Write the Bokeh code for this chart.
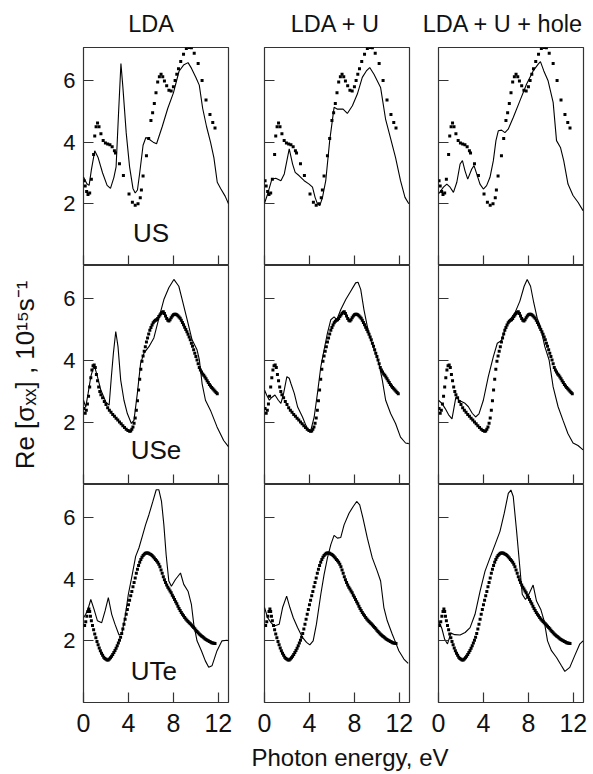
from bokeh.plotting import figure
from bokeh.layouts import row, column
from bokeh.models import FixedTicker, Range1d, Label, CustomLabelingPolicy
from bokeh.embed import file_html
from bokeh.resources import INLINE

FONT = "Liberation Sans"

column_titles = ["LDA", "LDA + U", "LDA + U + hole"]
compounds = ["US", "USe", "UTe"]
x_ticks = [0, 4, 8, 12]
y_ticks = [2, 4, 6]
x_label = "Photon energy, eV"
y_label = "Re [σₓₓ] , 10¹⁵s⁻¹"

# ---------------- experiment (dots), same in every column ----------------
us_exp_x = [0.05, 0.15, 0.28, 0.4, 0.55, 0.7, 0.9, 1.0, 1.12, 1.25, 1.38, 1.55, 1.75, 1.95,
            2.15, 2.35, 2.55, 2.75, 2.85, 3.2, 3.55, 4.05, 4.35, 4.6, 4.85, 5.05, 5.15, 5.3,
            5.6, 5.8, 6.0, 6.15, 6.3, 6.45, 6.6, 6.75, 6.9, 7.05, 7.2, 7.4, 7.6, 7.8, 8.0,
            8.15, 8.3, 8.45, 8.65, 8.9, 9.15, 9.4, 9.6, 9.85, 10.2, 10.55, 10.9, 11.25, 11.5, 11.7]
us_exp_y = [2.75, 2.58, 2.4, 2.3, 2.35, 2.8, 3.6, 4.2, 4.5, 4.62, 4.5, 4.27, 4.05, 3.97,
            3.94, 3.92, 3.85, 3.72, 3.65, 3.3, 2.92, 2.32, 2.05, 1.95, 2.0, 2.2, 2.45, 2.9,
            3.56, 4.12, 4.7, 4.95, 5.25, 5.6, 5.95, 6.12, 6.2, 6.12, 5.98, 5.83, 5.68, 5.66, 5.8,
            6.0, 6.2, 6.38, 6.62, 6.85, 7.04, 7.07, 7.06, 6.88, 6.55, 6.0, 5.37, 4.9, 4.64, 4.46]

use_exp_x = [0.05, 0.15, 0.25, 0.35, 0.45, 0.55, 0.65, 0.75, 0.85, 0.95, 1.05, 1.15, 1.25, 1.35,
             1.45, 1.55, 1.7, 1.85, 2.0, 2.15, 2.3, 2.45, 2.6, 2.75, 2.9, 3.05, 3.2, 3.35, 3.5,
             3.65, 3.8, 3.95, 4.1, 4.2, 4.3, 4.4, 4.5, 4.6, 4.7, 4.8, 4.9, 5.0, 5.1, 5.2, 5.3,
             5.4, 5.5, 5.6, 5.7, 5.8, 5.9, 6.0, 6.1, 6.2, 6.3, 6.4, 6.5, 6.6, 6.7, 6.8, 6.9,
             7.0, 7.1, 7.2, 7.3, 7.4, 7.5, 7.6, 7.7, 7.8, 7.9, 8.0, 8.1, 8.2, 8.3, 8.4, 8.5,
             8.6, 8.7, 8.8, 8.9, 9.0, 9.1, 9.2, 9.3, 9.4, 9.5, 9.6, 9.7, 9.8, 9.9, 10.0, 10.1,
             10.2, 10.3, 10.4, 10.5, 10.6, 10.7, 10.8, 10.9, 11.0, 11.1, 11.2, 11.3, 11.4, 11.5,
             11.6, 11.7, 11.8, 11.9]
use_exp_y = [2.45, 2.3, 2.4, 2.6, 2.85, 3.15, 3.45, 3.7, 3.83, 3.86, 3.78, 3.55, 3.35, 3.15,
             3.0, 2.9, 2.8, 2.68, 2.58, 2.48, 2.4, 2.33, 2.26, 2.2, 2.14, 2.08, 2.02, 1.96, 1.9,
             1.84, 1.78, 1.74, 1.72, 1.73, 1.78, 1.86, 1.98, 2.15, 2.4, 2.7, 3.05, 3.4, 3.72, 3.98, 4.15,
             4.3, 4.45, 4.6, 4.73, 4.86, 4.98, 5.07, 5.15, 5.22, 5.27, 5.3, 5.32, 5.36, 5.42, 5.47, 5.52,
             5.56, 5.58, 5.52, 5.44, 5.36, 5.3, 5.28, 5.32, 5.38, 5.44, 5.48, 5.5, 5.5, 5.48, 5.45, 5.41,
             5.37, 5.3, 5.23, 5.16, 5.08, 5.0, 4.93, 4.85, 4.76, 4.67, 4.56, 4.46, 4.35, 4.24, 4.13, 4.02,
             3.9, 3.78, 3.7, 3.63, 3.57, 3.53, 3.47, 3.41, 3.35, 3.29, 3.23, 3.18, 3.13, 3.09,
             3.05, 3.01, 2.97, 2.93]

ute_exp_x = [0.1, 0.2, 0.3, 0.4, 0.48, 0.55, 0.62, 0.7, 0.8, 0.9, 1.0, 1.1, 1.2, 1.3, 1.4, 1.5,
             1.6, 1.7, 1.8, 1.9, 2.0, 2.1, 2.2, 2.3, 2.4, 2.5, 2.6, 2.7, 2.8, 2.9, 3.0, 3.1, 3.2,
             3.3, 3.4, 3.5, 3.6, 3.7, 3.8, 3.9, 4.0, 4.1, 4.2, 4.3, 4.4, 4.5, 4.6, 4.7, 4.8, 4.9,
             5.0, 5.1, 5.2, 5.3, 5.4, 5.5, 5.6, 5.7, 5.8, 5.9, 6.0, 6.1, 6.2, 6.3, 6.4, 6.5, 6.6,
             6.7, 6.8, 6.9, 7.0, 7.1, 7.2, 7.3, 7.4, 7.5, 7.6, 7.7, 7.8, 7.9, 8.0, 8.1, 8.2, 8.3,
             8.4, 8.5, 8.6, 8.7, 8.8, 8.9, 9.0, 9.1, 9.2, 9.3, 9.4, 9.5, 9.6, 9.7, 9.8, 9.9, 10.0,
             10.1, 10.2, 10.3, 10.4, 10.5, 10.6, 10.7, 10.8, 10.9, 11.0, 11.1, 11.2, 11.3, 11.4,
             11.5, 11.6, 11.7]
ute_exp_y = [2.5, 2.62, 2.8, 2.95, 3.03, 2.95, 2.8, 2.65, 2.5, 2.36, 2.22, 2.1, 1.98, 1.87, 1.77, 1.68,
             1.6, 1.53, 1.47, 1.43, 1.4, 1.38, 1.38, 1.41, 1.45, 1.5, 1.56, 1.62, 1.69, 1.76, 1.84, 1.93, 2.02,
             2.12, 2.24, 2.38, 2.54, 2.7, 2.86, 3.02, 3.17, 3.32, 3.46, 3.6, 3.75, 3.89, 4.04, 4.19, 4.32, 4.44,
             4.55, 4.64, 4.71, 4.77, 4.81, 4.84, 4.85, 4.85, 4.84, 4.82, 4.8, 4.77, 4.73, 4.69, 4.64, 4.6, 4.55,
             4.48, 4.4, 4.3, 4.19, 4.08, 3.98, 3.89, 3.81, 3.74, 3.68, 3.62, 3.56, 3.48, 3.41, 3.34, 3.27, 3.2,
             3.12, 3.05, 2.98, 2.92, 2.86, 2.81, 2.76, 2.71, 2.67, 2.63, 2.59, 2.55, 2.51, 2.47, 2.43, 2.39, 2.34,
             2.3, 2.26, 2.22, 2.19, 2.16, 2.13, 2.1, 2.07, 2.04, 2.02, 2.0, 1.98, 1.96, 1.94,
             1.93, 1.92, 1.91]

# ---------------- theory (solid lines) ----------------
us_lda_x = [0.0, 0.3, 0.5, 0.7, 1.0, 1.3, 1.7, 2.1, 2.4, 2.7, 2.9, 3.1, 3.33, 3.5, 3.8, 4.1, 4.4,
            4.6, 4.8, 5.0, 5.3, 5.55, 5.8, 6.2, 6.5, 7.0, 7.5, 8.0, 8.5, 8.9, 9.3, 9.6, 10.0,
            10.3, 10.6, 10.95, 11.3, 11.6, 11.9, 12.2, 12.6, 12.9]
us_lda_y = [2.87, 2.65, 2.6, 3.1, 3.72, 3.5, 3.0, 2.6, 2.5, 2.85, 3.2, 4.8, 6.55, 5.8, 4.3, 3.2, 2.5,
            2.35, 2.45, 3.0, 3.9, 4.15, 4.1, 4.0, 3.95, 4.5, 5.1, 5.6, 6.3, 6.5, 6.58, 6.4, 6.1,
            5.85, 5.1, 4.5, 4.0, 3.5, 2.7, 2.5, 2.25, 2.0]

us_ldau_x = [0, 0.28, 0.66, 1.0, 1.46, 1.76, 2.2, 2.5, 2.73, 3.09, 3.53, 3.97, 4.27, 4.5, 4.71,
             4.92, 5.16, 5.45, 5.8, 6.19, 6.49, 6.99, 7.37, 7.82, 8.26, 8.7, 9.06, 9.36, 9.74,
             10.33, 10.77, 11.2, 11.66, 12.1, 12.5, 12.84]
us_ldau_y = [2.02, 2.32, 2.8, 2.83, 2.75, 2.97, 3.78, 3.29, 3.02, 2.91, 2.75, 2.64, 2.54, 2.21, 2.0,
             1.94, 2.21, 2.75, 4.05, 5.13, 5.07, 5.07, 4.93, 5.18, 5.56, 6.1, 6.31, 6.42, 6.2,
             5.77, 4.75, 4.15, 3.5, 2.75, 2.21, 2.0]

us_hole_x = [0, 0.44, 0.74, 1.03, 1.33, 1.63, 1.92, 2.13, 2.36, 2.6, 2.96, 3.16, 3.4, 3.69, 3.99,
             4.28, 4.58, 4.88, 5.11, 5.32, 5.61, 5.91, 6.2, 6.65, 7.24, 7.83, 8.42, 8.87, 9.07,
             9.37, 9.75, 10.2, 10.5, 10.85, 11.14, 11.52, 11.97, 12.41, 12.86]
us_hole_y = [2.32, 2.54, 2.64, 2.54, 2.37, 2.7, 3.29, 3.4, 3.07, 2.8, 3.13, 3.24, 2.97, 2.64, 2.48,
             2.59, 2.86, 3.4, 4.05, 4.37, 4.39, 4.31, 4.42, 4.8, 5.34, 5.88, 6.31, 6.53, 6.61,
             6.31, 5.99, 5.29, 4.05, 3.83, 3.4, 2.64, 2.27, 2.05, 1.78]

use_lda_x = [0, 0.2, 0.41, 0.65, 0.95, 1.24, 1.54, 1.98, 2.28, 2.48, 2.66, 2.87, 3.07, 3.31, 3.6,
             3.9, 4.26, 4.49, 4.79, 5.08, 5.38, 5.82, 6.26, 6.71, 7.15, 7.59, 8.04, 8.48, 8.78,
             9.22, 9.66, 10.1, 10.31, 10.55, 10.85, 11.29, 11.88, 12.47, 12.91]
use_lda_y = [2.72, 2.5, 2.94, 3.48, 3.86, 3.48, 3.05, 2.67, 2.56, 3.48, 4.24, 4.94, 4.45, 3.37, 2.72,
             2.29, 1.97, 2.07, 2.94, 3.91, 4.24, 4.45, 4.73, 5.37, 5.97, 6.35, 6.62, 6.4, 5.97,
             5.32, 4.67, 4.35, 4.02, 3.26, 2.72, 2.4, 1.86, 1.42, 1.21]

use_ldau_x = [0, 0.19, 0.43, 0.64, 0.93, 1.23, 1.46, 1.7, 1.99, 2.2, 2.35, 2.65, 2.95, 3.38, 3.68,
              3.98, 4.12, 4.42, 4.71, 5.01, 5.3, 5.6, 5.9, 6.19, 6.43, 6.78, 7.23, 7.67, 8.11, 8.32,
              8.56, 8.85, 9.15, 9.44, 9.89, 10.18, 10.48, 10.78, 11.22, 11.66, 12.1, 12.55, 12.84]
use_ldau_y = [3.05, 2.89, 2.72, 2.81, 2.89, 2.72, 2.62, 2.94, 3.48, 3.43, 3.26, 2.94, 2.5, 2.18, 1.91,
              1.7, 1.75, 2.18, 2.94, 3.8, 4.35, 4.89, 5.32, 5.41, 5.32, 5.64, 5.97, 6.24, 6.51, 6.53,
              6.3, 5.64, 5.1, 4.67, 4.24, 3.91, 3.37, 2.72, 2.29, 1.97, 1.53, 1.34, 1.32]

use_hole_x = [0, 0.3, 0.6, 0.9, 1.2, 1.55, 1.9, 2.36, 2.66, 3.0, 3.3, 3.6, 3.99, 4.43, 4.88, 5.23,
              5.61, 6.0, 6.35, 6.8, 7.24, 7.62, 7.89, 8.19, 8.48, 8.78, 9.07, 9.46, 9.84, 10.2,
              10.64, 11.08, 11.52, 11.97, 12.41, 12.86]
use_hole_y = [2.72, 2.62, 2.45, 2.25, 2.12, 2.83, 2.7, 2.62, 2.51, 2.3, 2.18, 2.28, 2.72, 3.48, 4.13, 4.56,
              4.65, 5.1, 5.32, 5.54, 5.92, 6.4, 6.62, 6.4, 5.86, 5.37, 5.1, 4.45, 4.02, 3.15,
              2.51, 2.07, 1.64, 1.34, 1.26, 1.12]

ute_lda_x = [0, 0.2, 0.44, 0.65, 0.94, 1.24, 1.62, 1.92, 2.21, 2.51, 2.8, 3.16, 3.4, 3.69, 3.99,
             4.28, 4.64, 4.93, 5.23, 5.52, 5.82, 6.17, 6.47, 6.7, 6.94, 7.15, 7.35, 7.59, 7.82,
             8.18, 8.63, 8.92, 9.3, 9.6, 9.81, 10.1, 10.49, 10.84, 11.14, 11.43, 11.88, 12.32,
             12.76, 12.91]
ute_lda_y = [2.75, 2.86, 3.08, 3.34, 3.02, 2.65, 2.59, 2.97, 3.4, 2.86, 2.54, 2.19, 2.22, 2.75, 3.51,
             4.04, 4.74, 5.01, 5.39, 5.76, 6.09, 6.52, 6.9, 6.9, 6.52, 5.76, 4.8, 3.94, 3.77,
             3.99, 4.2, 3.83, 3.61, 3.18, 2.54, 2.0, 1.68, 1.35, 1.14, 1.19, 1.68, 2.0,
             2.02, 2.0]

ute_ldau_x = [0, 0.28, 0.58, 0.87, 1.31, 1.61, 1.97, 2.26, 2.56, 2.94, 3.38, 3.74, 4.03, 4.33, 4.62,
              5.01, 5.3, 5.6, 5.9, 6.19, 6.49, 6.78, 7.08, 7.52, 7.88, 8.2, 8.47, 8.76, 9.15, 9.59,
              10.03, 10.33, 10.62, 10.92, 11.36, 11.66, 11.95, 12.4, 12.78]
ute_ldau_y = [3.08, 2.75, 2.59, 2.48, 2.54, 3.08, 3.45, 3.08, 2.75, 2.43, 2.11, 1.95, 1.87, 2.0, 2.54,
              3.51, 4.15, 4.69, 5.12, 5.42, 5.33, 5.35, 5.76, 6.14, 6.35, 6.52, 6.41, 5.98, 5.33, 4.69,
              4.26, 3.94, 3.08, 2.65, 2.22, 1.95, 1.68, 1.41, 1.27]

ute_hole_x = [0, 0.3, 0.55, 0.8, 1.1, 1.45, 1.92, 2.37, 2.81, 3.25, 3.7, 4.14, 4.58, 5.03, 5.47,
              5.85, 6.21, 6.44, 6.65, 6.95, 7.24, 7.45, 7.74, 8.04, 8.42, 8.72, 9.1, 9.4, 9.7,
              10.05, 10.5, 10.94, 11.24, 11.68, 12.12, 12.56, 12.86]
ute_hole_y = [2.65, 2.4, 2.05, 1.9, 2.25, 2.2, 2.19, 2.27, 2.43, 2.86, 3.61, 4.26, 4.69, 5.12, 5.55,
              6.14, 6.78, 6.89, 6.68, 5.55, 4.37, 3.51, 3.34, 3.51, 3.81, 3.29, 3.02, 2.65, 2.0,
              1.68, 1.46, 1.19, 1.01, 1.14, 1.52, 1.89, 2.0]

experiment = {
    "US": (us_exp_x, us_exp_y),
    "USe": (use_exp_x, use_exp_y),
    "UTe": (ute_exp_x, ute_exp_y),
}
theory = {
    ("US", 0): (us_lda_x, us_lda_y), ("US", 1): (us_ldau_x, us_ldau_y), ("US", 2): (us_hole_x, us_hole_y),
    ("USe", 0): (use_lda_x, use_lda_y), ("USe", 1): (use_ldau_x, use_ldau_y), ("USe", 2): (use_hole_x, use_hole_y),
    ("UTe", 0): (ute_lda_x, ute_lda_y), ("UTe", 1): (ute_ldau_x, ute_ldau_y), ("UTe", 2): (ute_hole_x, ute_hole_y),
}

# positions of texts (pixels in the strips, data units inside panels)
label_pos = {"US": (6.0, 1.04), "USe": (6.45, 1.1), "UTe": (6.25, 1.03)}
title_cx = [150.5, 335.0, 502.5]
title_cy = 23
xlabel_cx = 349.5
xlabel_cy = 15

# ---------------- layout geometry (pixels) ----------------
X_MAX = 12.9
Y_MAX = 7.07
col_w = [238, 181, 172]
col_lb = [83, 26, 19]
col_rb = [10, 10, 8]
row_h = [218, 219, 258]
row_bb = [0, 0, 40]
top_h = 47
bottom_h = 30
total_w = sum(col_w)
INK = "#111111"
FRAME = "#333333"

hide_labels = CustomLabelingPolicy(code="for (const i of indices) { indices.unset(i) }\nreturn indices")


def strip(height):
    s = figure(width=total_w, height=height, x_range=Range1d(0, total_w), y_range=Range1d(height, 0),
               output_backend="svg", toolbar_location=None, x_axis_type=None, y_axis_type=None,
               min_border=0, outline_line_color=None)
    s.title.visible = False
    s.grid.visible = False
    return s


layout_rows = []

top = strip(top_h)
for c in range(3):
    top.add_layout(Label(x=title_cx[c], y=title_cy, text=column_titles[c], text_font=FONT,
                         text_font_size="23.5px", text_color=INK,
                         text_align="center", text_baseline="middle"))
layout_rows.append(top)

for r, comp in enumerate(compounds):
    figs = []
    for c in range(3):
        p = figure(width=col_w[c], height=row_h[r],
                   x_range=Range1d(0, X_MAX), y_range=Range1d(0, Y_MAX),
                   output_backend="svg", toolbar_location=None,
                   min_border_left=col_lb[c], min_border_right=col_rb[c],
                   min_border_top=0, min_border_bottom=row_bb[r])
        p.title.visible = False
        p.grid.visible = False
        p.outline_line_color = FRAME
        p.outline_line_width = 1.2
        p.background_fill_color = "white"
        p.border_fill_color = "white"

        xa = p.xaxis[0]
        xa.ticker = FixedTicker(ticks=x_ticks)
        xa.major_tick_in = 10
        xa.major_tick_out = 0
        xa.minor_tick_line_color = None
        xa.axis_line_color = None
        xa.major_tick_line_color = FRAME
        xa.major_tick_line_width = 1.2
        xa.major_label_text_font = FONT
        xa.major_label_text_color = INK
        if r == 2:
            xa.major_label_text_font_size = "25px"
            xa.major_label_standoff = 11
        else:
            xa.major_label_text_font_size = "0px"
            xa.major_label_standoff = 0
            xa.major_label_policy = hide_labels

        ya = p.yaxis[0]
        ya.ticker = FixedTicker(ticks=y_ticks)
        ya.major_tick_in = 10
        ya.major_tick_out = 0
        ya.minor_tick_line_color = None
        ya.axis_line_color = None
        ya.major_tick_line_color = FRAME
        ya.major_tick_line_width = 1.2
        ya.major_label_text_font = FONT
        ya.major_label_text_color = INK
        if c == 0:
            ya.major_label_text_font_size = "22px"
            ya.major_label_standoff = 8
        else:
            ya.major_label_text_font_size = "0px"
            ya.major_label_standoff = 0
            ya.major_label_policy = hide_labels
        if c == 0 and r == 1:
            ya.axis_label = y_label
            ya.axis_label_text_font = FONT
            ya.axis_label_text_font_size = "26px"
            ya.axis_label_text_font_style = "normal"
            ya.axis_label_text_color = INK
            ya.axis_label_standoff = 20

        tx, ty = theory[(comp, c)]
        p.line(tx, ty, line_color="black", line_width=1.1)
        ex, ey = experiment[comp]
        p.scatter(ex, ey, marker="square", size=3, fill_color="black", line_color=None)

        if c == 0:
            lx, ly = label_pos[comp]
            p.add_layout(Label(x=lx, y=ly, text=comp, text_font=FONT, text_font_size="26px",
                               text_color=INK, text_align="center", text_baseline="middle"))
        figs.append(p)
    layout_rows.append(row(*figs))

bottom = strip(bottom_h)
bottom.add_layout(Label(x=xlabel_cx, y=xlabel_cy, text=x_label, text_font=FONT,
                        text_font_size="24px", text_color=INK,
                        text_align="center", text_baseline="middle"))
layout_rows.append(bottom)

layout = column(*layout_rows)
open("out.html", "w").write(file_html(layout, INLINE))
